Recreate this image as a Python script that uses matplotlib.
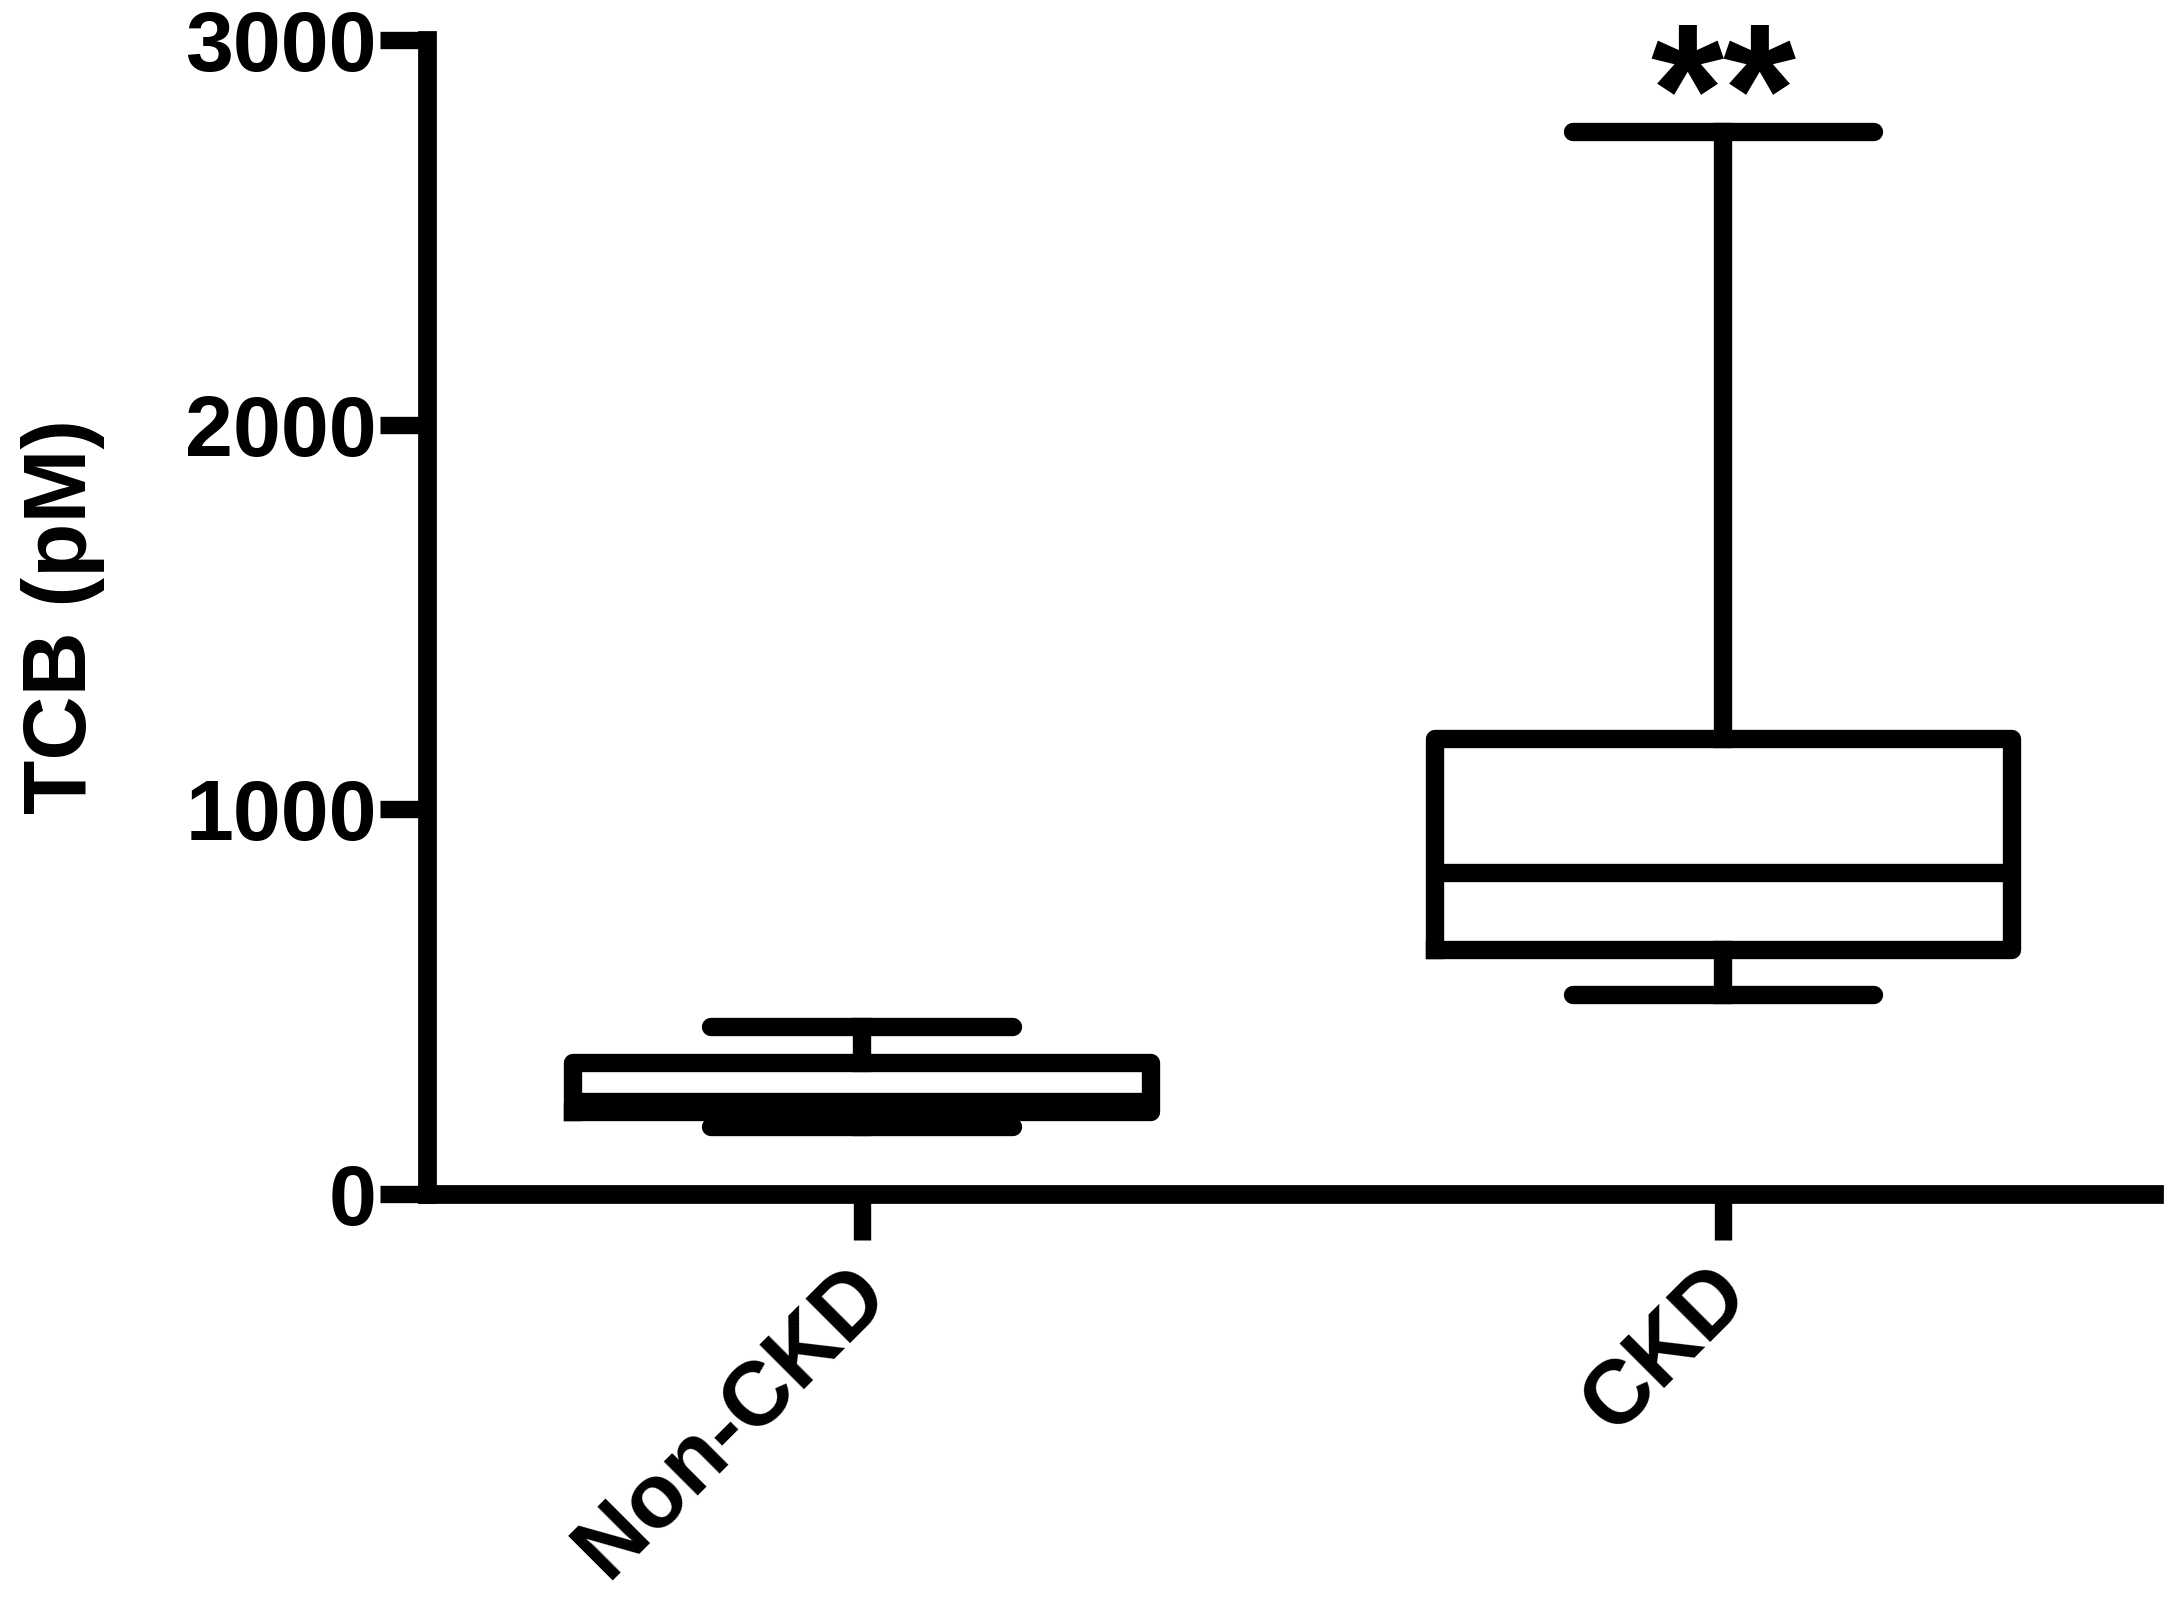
import matplotlib.pyplot as plt
from matplotlib.transforms import ScaledTranslation

# box plot values (pM)
groups = ['Non-CKD', 'CKD']
whisker_low = [175, 517]
q1 = [214, 634]
median = [240, 834]
q3 = [341, 1183]
whisker_high = [434, 2761]
y_ticks = [0, 1000, 2000, 3000]
sig_label = '**'

plt.rcParams['font.family'] = ['Liberation Sans', 'DejaVu Sans']
plt.rcParams['font.weight'] = 'bold'

W, H = 2179, 1598
fig = plt.figure(figsize=(W / 100, H / 100), dpi=100)
ax = fig.add_axes([427 / W, 404 / H, (2154 - 427) / W, (1194 - 40) / H])

stats = []
for i in range(len(groups)):
    stats.append(dict(whislo=whisker_low[i], q1=q1[i], med=median[i],
                      q3=q3[i], whishi=whisker_high[i], label=groups[i]))

lw = 13.2
ax.bxp(stats, positions=[1, 2], widths=0.67, capwidths=0.35, showfliers=False,
       boxprops=dict(color='black', lw=lw, solid_joinstyle='round'),
       whiskerprops=dict(color='black', lw=lw),
       capprops=dict(color='black', lw=lw, solid_capstyle='round'),
       medianprops=dict(color='black', lw=lw))

ax.set_xlim(0.495, 2.5)
ax.set_ylim(0, 3000)
ax.set_yticks(y_ticks)
ax.set_yticklabels([str(t) for t in y_ticks])
ax.set_xticks([1, 2])

for side in ['top', 'right']:
    ax.spines[side].set_visible(False)
for side in ['left', 'bottom']:
    ax.spines[side].set_linewidth(13.5)
    ax.spines[side].set_capstyle('projecting')

ax.tick_params(axis='y', length=34, width=12.5, pad=2, labelsize=62)
ax.tick_params(axis='x', length=33, width=12.5, pad=12, labelsize=65)
ax.set_xticklabels(groups, rotation=45, ha='right', va='top', rotation_mode='anchor')

# nudge the slanted group labels a little left/up (after tick_params, which resets transforms)
shift = ScaledTranslation(-18 / 100, 6 / 100, fig.dpi_scale_trans)
for lab in ax.get_xticklabels():
    lab.set_transform(lab.get_transform() + shift)

ax.set_ylabel('TCB (pM)', fontsize=64, fontweight='bold', va='center')
ax.yaxis.set_label_coords(-0.211, 0.5)

ax.text(2, 2706, sig_label, ha='center', va='baseline', fontsize=135, fontweight='bold')

fig.savefig('out.png', dpi=100)
